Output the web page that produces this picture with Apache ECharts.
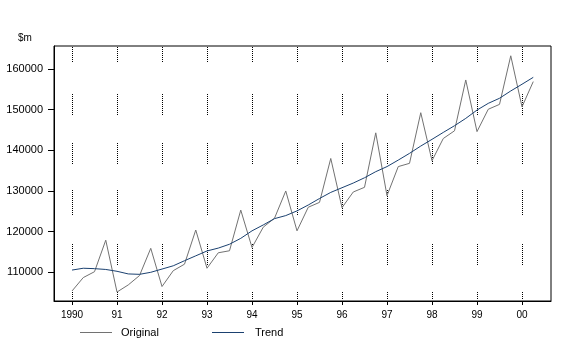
<!DOCTYPE html>
<html><head><meta charset="utf-8">
<script src="https://cdn.jsdelivr.net/npm/echarts@6/dist/echarts.min.js"></script>
<style>html,body{margin:0;padding:0;background:#fff}#c{width:582px;height:357px}</style>
</head><body><div id="c"></div>
<script>
const startYear = 1990;
const quartersPerYear = 4;
const yearTicks = [1990, 1991, 1992, 1993, 1994, 1995, 1996, 1997, 1998, 1999, 2000];
const yTicks = [110000, 120000, 130000, 140000, 150000, 160000];
const original = [105400, 108700, 110150, 117900, 105150, 106900, 109200, 115900, 106500, 110400,
  112000, 120400, 111000, 114800, 115300, 125300, 116100, 121100, 123300, 130000,
  120200, 126000, 127200, 138000, 125900, 129750, 130900, 144300, 128850, 136000,
  136800, 149250, 137450, 142900, 144800, 157300, 144600, 150100, 151300, 163250,
  150700, 156900];
const trend = [110550, 111000, 110900, 110700, 110250, 109600, 109500, 110000, 110800, 111600,
  112850, 114050, 115250, 115950, 116900, 118350, 120200, 121650, 123200, 123950,
  125100, 126550, 128150, 129650, 130800, 131950, 133250, 134750, 136000, 137600,
  139250, 141050, 142700, 144400, 146050, 147850, 149900, 151550, 152800, 154600,
  156250, 157950];

const toPairs = arr => arr.map((v, i) => [startYear + i / quartersPerYear, v]);

function dashPattern(spec) {
  const a = [0, 0];
  for (const [t, n] of spec) {
    if (t === 'g') a[a.length - 1] += n;
    else for (let k = 0; k < n / 2; k++) a.push(1, 1);
  }
  return a;
}
const gridDash = dashPattern([['g',1],['d',16],['g',31],['d',22],['g',27],['d',22],['g',25],['d',26],['g',28],['d',22],['g',26],['d',8]]);

const font = '"Liberation Sans", Arial, sans-serif';
const chart = echarts.init(document.getElementById('c'), null, {renderer: 'canvas'});
chart.setOption({
  animation: false,
  backgroundColor: '#ffffff',
  title: {text: '$m', left: 18, top: 33, padding: 0,
    textStyle: {fontFamily: font, fontSize: 10, fontWeight: 'normal', color: '#000'}},
  grid: {left: 54, top: 46, width: 497, height: 255, show: true, borderColor: '#000', borderWidth: 1, backgroundColor: 'transparent'},
  legend: [
    {data: ['Original'], left: 80, top: 327, itemWidth: 32, itemHeight: 1, icon: 'rect', padding: 0,
      textStyle: {fontFamily: font, fontSize: 11, color: '#000', padding: [0, 0, 0, 4]}},
    {data: ['Trend'], left: 212, top: 327, itemWidth: 32, itemHeight: 1, icon: 'rect', padding: 0,
      textStyle: {fontFamily: font, fontSize: 11, color: '#000', padding: [0, 0, 0, 6]}}
  ],
  xAxis: {
    type: 'value', min: 1989.6, max: 1989.6 + 497 / 45,
    axisLine: {show: true, lineStyle: {color: '#000', width: 1}},
    axisTick: {show: true, length: 4, customValues: yearTicks, lineStyle: {color: '#000'}},
    axisLabel: {customValues: yearTicks, margin: 9, fontFamily: font, fontSize: 10, color: '#000',
      formatter: v => v === 1990 ? '1990' : String(Math.round(v) % 100).padStart(2, '0')},
    splitLine: {show: true, customValues: yearTicks, lineStyle: {color: '#000', width: 1, type: gridDash}}
  },
  yAxis: {
    type: 'value', min: 102942, max: 165657,
    axisLine: {show: true, lineStyle: {color: '#000', width: 1}},
    axisTick: {show: true, length: 6, customValues: yTicks, lineStyle: {color: '#000'}},
    axisLabel: {customValues: yTicks, margin: 11, fontFamily: font, fontSize: 11, color: '#000',
      formatter: v => String(Math.round(v))},
    splitLine: {show: false}
  },
  series: [
    {name: 'Original', type: 'line', data: toPairs(original), symbol: 'none',
      lineStyle: {color: '#727272', width: 1}, itemStyle: {color: '#727272'}},
    {name: 'Trend', type: 'line', data: toPairs(trend), symbol: 'none',
      lineStyle: {color: '#1b4170', width: 1}, itemStyle: {color: '#1b4170'}}
  ]
});
</script></body></html>
